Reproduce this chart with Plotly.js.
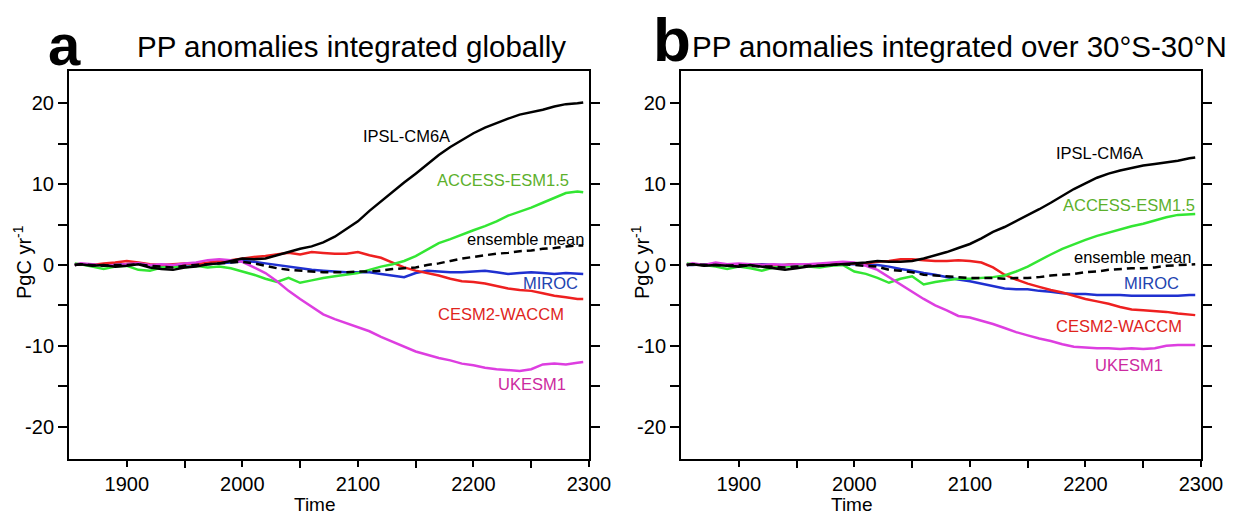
<!DOCTYPE html>
<html>
<head>
<meta charset="utf-8">
<script src="https://cdn.plot.ly/plotly-3.0.1.min.js"></script>
<style>
  html, body { margin: 0; padding: 0; background: #fff; }
  #chart { width: 1240px; height: 514px; }
</style>
</head>
<body>
<div id="chart"></div>
<script>
// ---------------- DATA ----------------
const years = [1855,1860,1870,1880,1890,1900,1910,1920,1930,1940,1950,1960,1970,1980,1990,
  2000,2010,2020,2030,2040,2050,2060,2070,2080,2090,2100,2110,2120,2130,2140,2150,2160,
  2170,2180,2190,2200,2210,2220,2230,2240,2250,2260,2270,2280,2290,2295];

const modelNames = ["IPSL-CM6A","ACCESS-ESM1.5","CESM2-WACCM","MIROC","UKESM1","ensemble mean"];

// Panel a: integrated globally (PgC/yr)
const ipslGlobal = [0,0.1,-0.1,0,-0.2,-0.1,0.1,-0.3,-0.5,-0.6,-0.3,-0.2,0.1,0.2,0.5,
  0.8,0.7,0.8,1.2,1.6,2.0,2.3,2.8,3.5,4.4,5.4,6.7,7.9,9.0,10.2,11.3,12.5,
  13.6,14.6,15.5,16.3,17.0,17.6,18.1,18.6,18.9,19.2,19.6,19.9,20.0,20.1];
const accessGlobal = [0.2,0.1,-0.2,-0.5,-0.2,-0.1,-0.6,-0.7,-0.3,-0.2,-0.3,-0.1,-0.3,-0.2,-0.4,
  -0.8,-1.2,-1.7,-2.1,-1.6,-2.2,-1.9,-1.6,-1.4,-1.2,-1.0,-0.6,-0.2,0.1,0.5,1.1,1.9,
  2.7,3.2,3.8,4.3,4.8,5.4,6.1,6.6,7.1,7.7,8.3,8.9,9.1,9.0];
const cesmGlobal = [0,0.1,0,0.2,0.3,0.5,0.3,0.1,0,0.1,0.2,0.1,0.3,0.5,0.6,
  0.8,1.0,1.1,1.3,1.5,1.3,1.6,1.5,1.4,1.4,1.6,1.2,0.9,0.3,-0.3,-0.7,-1.0,
  -1.3,-1.7,-2.0,-2.1,-2.3,-2.6,-2.9,-3.1,-3.2,-3.5,-3.8,-4.0,-4.2,-4.2];
const mirocGlobal = [0,0.1,0,0.1,0,0.1,0.2,0,-0.1,0,0.1,0,0.1,0.2,0.3,
  0.5,0.4,0.2,0,-0.2,-0.4,-0.6,-0.7,-0.8,-0.9,-0.9,-0.9,-1.1,-1.3,-1.5,-1.0,-0.7,
  -0.8,-0.9,-0.9,-0.8,-0.7,-0.9,-1.1,-1.0,-0.9,-1.0,-1.1,-1.0,-1.1,-1.1];
const ukesmGlobal = [0,0.2,0.1,-0.1,0,0.1,0.2,0,0.1,0,0.2,0.3,0.6,0.7,0.6,
  0.4,-0.3,-1.0,-2.0,-3.2,-4.2,-5.2,-6.1,-6.7,-7.2,-7.7,-8.2,-8.9,-9.5,-10.1,-10.7,-11.1,
  -11.5,-11.8,-12.2,-12.4,-12.7,-12.9,-13.0,-13.1,-12.9,-12.3,-12.2,-12.3,-12.1,-12.0];
const meanGlobal = [0,0.1,0,-0.1,0,0,0.1,-0.1,-0.2,-0.3,-0.1,0,0.1,0.2,0.3,
  0.4,0.2,-0.1,-0.4,-0.6,-0.7,-0.8,-0.9,-0.9,-0.9,-0.8,-0.8,-0.7,-0.5,-0.4,-0.3,0,
  0.2,0.5,0.8,1.0,1.2,1.4,1.5,1.7,1.8,2.0,2.1,2.3,2.4,2.4];

// Panel b: integrated over 30°S-30°N (PgC/yr)
const ipslTropics = [0,0.1,-0.1,0,-0.1,-0.2,0,-0.2,-0.4,-0.6,-0.4,-0.2,-0.1,0,0.1,
  0.2,0.3,0.5,0.4,0.4,0.5,0.8,1.2,1.6,2.1,2.6,3.3,4.1,4.7,5.4,6.1,6.9,
  7.7,8.6,9.4,10.1,10.8,11.3,11.7,12.0,12.3,12.5,12.7,12.9,13.2,13.3];
const accessTropics = [0.2,0.1,0,-0.2,-0.5,-0.2,-0.4,-0.7,-0.3,-0.2,-0.1,-0.2,-0.3,-0.1,0,
  -0.8,-1.1,-1.6,-2.2,-1.7,-1.4,-2.4,-2.1,-1.9,-1.7,-1.7,-1.6,-1.5,-1.3,-0.8,-0.2,0.6,
  1.3,2.0,2.6,3.1,3.6,4.0,4.4,4.8,5.1,5.5,5.9,6.2,6.3,6.3];
const cesmTropics = [0,0.1,0,0.1,0,0.1,0,0,-0.1,0,0.1,0,0.1,0.1,0.2,
  0.2,0.2,0.4,0.5,0.7,0.7,0.6,0.5,0.5,0.6,0.5,0.3,-0.3,-1.2,-1.8,-2.3,-2.7,
  -3.1,-3.4,-3.8,-4.2,-4.5,-4.8,-5.2,-5.5,-5.6,-5.7,-5.8,-6.0,-6.1,-6.2];
const mirocTropics = [0,0,0.1,0,0.1,0.1,0,0.1,0,0,0.1,0,0,0.1,0.1,
  0.1,0,0,-0.2,-0.5,-0.7,-1.0,-1.2,-1.5,-1.8,-2.0,-2.3,-2.6,-2.9,-3.0,-3.0,-3.2,
  -3.3,-3.5,-3.6,-3.6,-3.7,-3.7,-3.7,-3.8,-3.8,-3.8,-3.8,-3.8,-3.7,-3.7];
const ukesmTropics = [0,0.2,0,0.3,0.1,0.2,0.1,0,0.1,0,0.1,0.1,0.2,0.3,0.4,
  0.3,-0.1,-0.6,-1.5,-2.5,-3.3,-4.2,-5.0,-5.6,-6.3,-6.5,-6.9,-7.3,-7.8,-8.3,-8.7,-9.1,
  -9.4,-9.8,-10.1,-10.2,-10.3,-10.3,-10.4,-10.3,-10.4,-10.3,-10.0,-9.9,-9.9,-9.9];
const meanTropics = [0,0.1,0,0,-0.1,0,-0.1,-0.2,-0.2,-0.3,-0.2,-0.1,-0.1,0,0.1,
  0,-0.1,-0.2,-0.6,-0.7,-0.9,-1.2,-1.3,-1.4,-1.5,-1.6,-1.6,-1.6,-1.7,-1.6,-1.6,-1.5,
  -1.3,-1.2,-1.1,-0.9,-0.8,-0.6,-0.5,-0.4,-0.4,-0.3,-0.1,0,0.1,0.1];

const xTickVals = [1900,2000,2100,2200,2300];
const xTickText = ["1900","2000","2100","2200","2300"];
const xMinorTickVals = [1950,2050,2150,2250];
const xTopTickVals = [1900,1950,2000,2050,2100,2150,2200,2250];
const yTickVals = [-20,-10,0,10,20];
const yTickText = ["-20","-10","0","10","20"];
const yMinorTickVals = [-15,-5,5,15];

const panelTitles = ["PP anomalies integrated globally","PP anomalies integrated over 30°S-30°N"];
const panelLetters = ["a","b"];

// ---------------- STYLE ----------------
const FONT = "Liberation Sans, Arial, Helvetica, sans-serif";
const lineColors = {
  "IPSL-CM6A": "#000000",
  "ACCESS-ESM1.5": "#33e633",
  "CESM2-WACCM": "#ee2020",
  "MIROC": "#1f30d0",
  "UKESM1": "#dd3ee0",
  "ensemble mean": "#000000"
};
const labelColors = {
  "IPSL-CM6A": "#000000",
  "ACCESS-ESM1.5": "#5cb02c",
  "CESM2-WACCM": "#e0241c",
  "MIROC": "#2243b0",
  "UKESM1": "#cc2aa0",
  "ensemble mean": "#000000"
};

const seriesA = {"IPSL-CM6A": ipslGlobal, "ACCESS-ESM1.5": accessGlobal, "CESM2-WACCM": cesmGlobal,
  "MIROC": mirocGlobal, "UKESM1": ukesmGlobal, "ensemble mean": meanGlobal};
const seriesB = {"IPSL-CM6A": ipslTropics, "ACCESS-ESM1.5": accessTropics, "CESM2-WACCM": cesmTropics,
  "MIROC": mirocTropics, "UKESM1": ukesmTropics, "ensemble mean": meanTropics};

const drawOrder = ["MIROC","CESM2-WACCM","ACCESS-ESM1.5","UKESM1","IPSL-CM6A","ensemble mean"];

const traces = [];
[[seriesA,"x","y"],[seriesB,"x2","y2"]].forEach(([ser, xa, ya]) => {
  drawOrder.forEach(name => {
    traces.push({
      type: "scatter", mode: "lines", x: years, y: ser[name], name: name,
      xaxis: xa, yaxis: ya, showlegend: false, hoverinfo: "skip",
      line: {color: lineColors[name], width: 2.5, dash: name === "ensemble mean" ? "8px,5px" : "solid"}
    });
  });
});

// label positions (data coordinates) per panel
const labelPosA = {"IPSL-CM6A":[2142,15.9],"ACCESS-ESM1.5":[2226,10.5],"ensemble mean":[2245,3.2],
  "MIROC":[2267,-2.2],"CESM2-WACCM":[2224,-6.0],"UKESM1":[2251,-14.7]};
const labelPosB = {"IPSL-CM6A":[2212,13.9],"ACCESS-ESM1.5":[2238,7.4],"ensemble mean":[2241,1.0],
  "MIROC":[2257,-2.2],"CESM2-WACCM":[2229,-7.5],"UKESM1":[2238,-12.4]};

const annotations = [];
[[labelPosA,"x","y"],[labelPosB,"x2","y2"]].forEach(([pos, xr, yr]) => {
  modelNames.forEach(name => {
    annotations.push({xref: xr, yref: yr, x: pos[name][0], y: pos[name][1], text: name,
      showarrow: false, xanchor: "center", yanchor: "middle",
      font: {family: FONT, size: 16.5, color: labelColors[name]}});
  });
});

const H = 514, W = 1240;
const px = v => v / W, py = v => 1 - v / H;
// panel letters and titles
annotations.push({xref:"paper",yref:"paper",x:px(64),y:py(44),text:"<b>"+panelLetters[0]+"</b>",showarrow:false,
  xanchor:"center",yanchor:"middle",font:{family:FONT,size:58,color:"#000"}});
annotations.push({xref:"paper",yref:"paper",x:px(672),y:py(40),text:"<b>"+panelLetters[1]+"</b>",showarrow:false,
  xanchor:"center",yanchor:"middle",font:{family:FONT,size:62,color:"#000"}});
annotations.push({xref:"paper",yref:"paper",x:px(351),y:py(46),text:panelTitles[0],showarrow:false,
  xanchor:"center",yanchor:"middle",font:{family:FONT,size:29.5,color:"#000"}});
annotations.push({xref:"paper",yref:"paper",x:px(959),y:py(46),text:panelTitles[1],showarrow:false,
  xanchor:"center",yanchor:"middle",font:{family:FONT,size:29.5,color:"#000"}});
// axis titles
annotations.push({xref:"paper",yref:"paper",x:px(22),y:py(262),text:"PgC yr<sup>-1</sup>",textangle:-90,showarrow:false,
  xanchor:"center",yanchor:"middle",font:{family:FONT,size:20,color:"#000"}});
annotations.push({xref:"paper",yref:"paper",x:px(640),y:py(262),text:"PgC yr<sup>-1</sup>",textangle:-90,showarrow:false,
  xanchor:"center",yanchor:"middle",font:{family:FONT,size:20,color:"#000"}});
annotations.push({xref:"paper",yref:"paper",x:px(315),y:py(504),text:"Time",showarrow:false,
  xanchor:"center",yanchor:"middle",font:{family:FONT,size:19,color:"#000"}});
annotations.push({xref:"paper",yref:"paper",x:px(852),y:py(504),text:"Time",showarrow:false,
  xanchor:"center",yanchor:"middle",font:{family:FONT,size:19,color:"#000"}});

const yDomain = [py(459), py(71)];
function xAxis(domain) {
  return {domain: domain, range: [1850, 2300], showline: true, linewidth: 2, linecolor: "#000",
    mirror: true, ticks: "outside", ticklen: 6, tickwidth: 2, tickcolor: "#000",
    tickmode: "array", tickvals: xTickVals, ticktext: xTickText,
    minor: {tickmode: "array", tickvals: xMinorTickVals, ticks: "outside", ticklen: 7, tickwidth: 2, tickcolor: "#000", showgrid: false},
    tickfont: {family: FONT, size: 20, color: "#000"}, showgrid: false, zeroline: false, fixedrange: true};
}
function xTop(over, anchor) {
  return {overlaying: over, anchor: anchor, side: "top", range: [1850, 2300], showline: false,
    ticks: "outside", ticklen: 8, tickwidth: 2, tickcolor: "#000", tickmode: "array",
    tickvals: xTopTickVals, showticklabels: false, showgrid: false, zeroline: false, fixedrange: true};
}
function yAxis(anchor) {
  return {domain: yDomain, anchor: anchor, range: [-24, 24], showline: true, linewidth: 2, linecolor: "#000",
    mirror: "ticks", ticks: "outside", ticklen: 9, tickwidth: 2, tickcolor: "#000",
    tickmode: "array", tickvals: yTickVals, ticktext: yTickText,
    minor: {tickmode: "array", tickvals: yMinorTickVals, ticks: "outside", ticklen: 9, tickwidth: 2, tickcolor: "#000", showgrid: false},
    tickfont: {family: FONT, size: 20, color: "#000"}, showgrid: false, zeroline: false, fixedrange: true};
}

const layout = {
  width: W, height: H, margin: {l: 0, r: 0, t: 0, b: 0},
  paper_bgcolor: "#fff", plot_bgcolor: "#fff", showlegend: false,
  font: {family: FONT, color: "#000"},
  xaxis: Object.assign(xAxis([px(69), px(589)]), {anchor: "y"}),
  yaxis: yAxis("x"),
  xaxis2: Object.assign(xAxis([px(681), px(1201)]), {anchor: "y2"}),
  yaxis2: yAxis("x2"),
  xaxis3: xTop("x", "y"),
  xaxis4: xTop("x2", "y2"),
  annotations: annotations
};

Plotly.newPlot("chart", traces, layout, {displayModeBar: false, staticPlot: true});
</script>
</body>
</html>
